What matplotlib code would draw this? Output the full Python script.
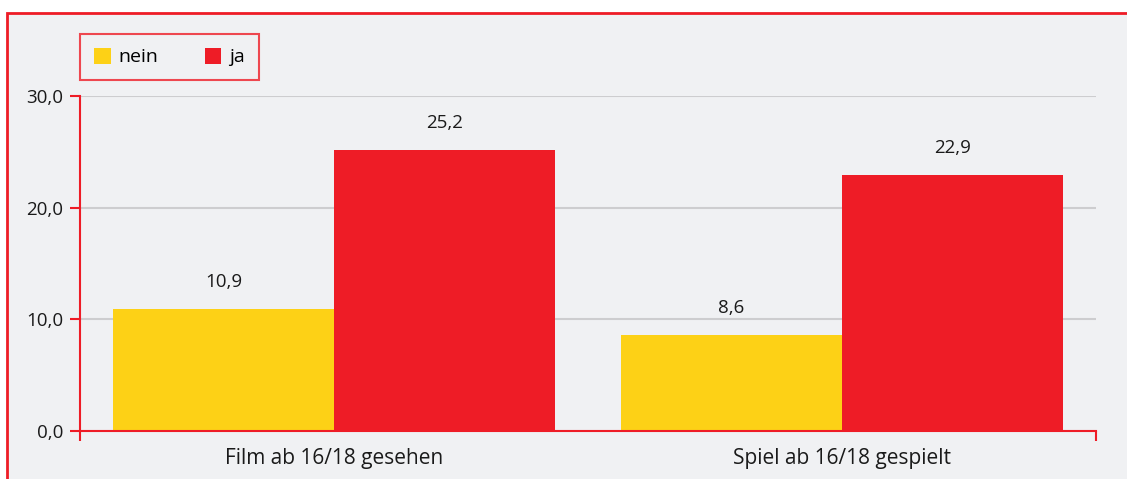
import matplotlib
matplotlib.use('Agg')

import numpy as np
import matplotlib.pyplot as plt
from matplotlib.patches import Rectangle, Patch

categories = ['Film ab 16/18 gesehen', 'Spiel ab 16/18 gespielt']
series     = ['nein', 'ja']
nein_vals  = [10.9, 8.6]
ja_vals    = [25.2, 22.9]
y_ticks    = [0, 10, 20, 30]

bg_col   = '#F0F1F3'
red_col  = '#EE1C26'
yel_col  = '#FDD116'
grid_col = '#CDCDCF'
txt_col  = '#1a1a1a'

plt.rcParams['font.family'] = ['Open Sans', 'DejaVu Sans']

fig = plt.figure(figsize=(11.27, 4.79), dpi=100)
fig.patch.set_facecolor('white')
panel = Rectangle((7 / 1127, -0.1), 1.2, (479 - 13) / 479 + 0.1,
                  transform=fig.transFigure, facecolor=bg_col,
                  edgecolor=red_col, linewidth=2, zorder=-10)
fig.add_artist(panel)

ax = fig.add_axes([80 / 1127, 48 / 479, (1096 - 80) / 1127, (431 - 96) / 479])
ax.set_facecolor('none')

x = np.arange(len(categories))
w = 0.435
b1 = ax.bar(x - w / 2, nein_vals, w, color=yel_col, zorder=2)
b2 = ax.bar(x + w / 2, ja_vals, w, color=red_col, zorder=2)

for bars, vals in ((b1, nein_vals), (b2, ja_vals)):
    for r, v in zip(bars, vals):
        ax.text(r.get_x() + r.get_width() / 2, v + 1.6, ('%.1f' % v).replace('.', ','),
                ha='center', va='bottom', fontsize=13.5, color=txt_col)

ax.set_xlim(-0.5, 1.5)
ax.set_ylim(0, 30)
ax.set_yticks(y_ticks)
ax.set_yticklabels([('%.1f' % t).replace('.', ',') for t in y_ticks], fontsize=13.5, color=txt_col)
ax.yaxis.grid(True, color=grid_col, linewidth=1.5, zorder=1)
ax.set_axisbelow(True)

ax.set_xticks([-0.5, 1.5])
ax.set_xticklabels(['', ''])
ax.tick_params(axis='both', color=red_col, width=1.5, length=7)
ax.tick_params(axis='y', pad=5)
for xi, c in zip(x, categories):
    ax.text(xi, -0.05, c, transform=ax.get_xaxis_transform(), ha='center', va='top',
            fontsize=15, color=txt_col)

for s in ('top', 'right'):
    ax.spines[s].set_visible(False)
for s in ('left', 'bottom'):
    ax.spines[s].set_color(red_col)
    ax.spines[s].set_linewidth(1.5)

handles = [Patch(facecolor=yel_col), Patch(facecolor=red_col)]
leg = fig.legend(handles, series, loc='upper left', bbox_to_anchor=(80 / 1127, 1 - 34 / 479),
                 ncol=2, frameon=True, fancybox=False, fontsize=14,
                 handlelength=0.85, handleheight=0.85, handletextpad=0.4,
                 columnspacing=2.4, borderpad=0.72, borderaxespad=0)
leg.get_frame().set_edgecolor(red_col)
leg.get_frame().set_facecolor(bg_col)
leg.get_frame().set_linewidth(1.5)

fig.savefig('out.png', dpi=100, facecolor=fig.get_facecolor())
